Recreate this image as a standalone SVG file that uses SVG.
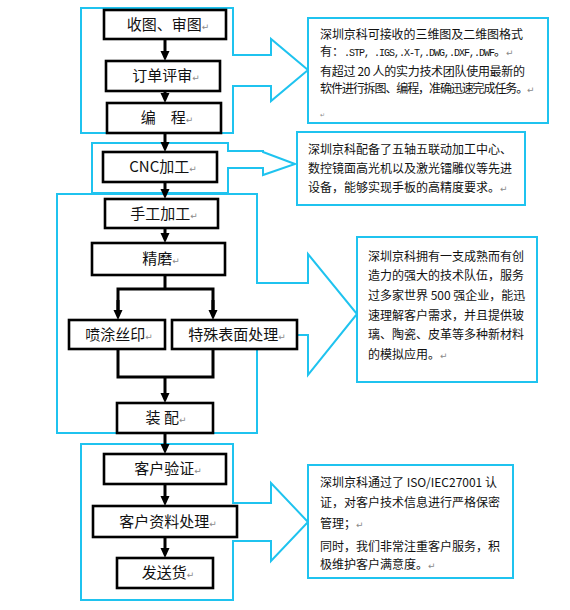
<svg xmlns="http://www.w3.org/2000/svg" width="570" height="610" viewBox="0 0 570 610">
<style>
.reg{fill:none;stroke:#1fc3ef;stroke-width:2}
.cb{fill:#fff;stroke:#1fc3ef;stroke-width:2}
.nb{fill:#fff;stroke:#000;stroke-width:2.6}
.lbl{font-family:"Noto Sans CJK SC","Noto Sans",sans-serif;font-size:15px;fill:#111;text-anchor:middle}
.ct{font-family:"Noto Sans CJK SC","Noto Sans",sans-serif;font-size:12px;fill:#111}
.pm{font-family:"DejaVu Sans",sans-serif;font-size:9px;fill:#8a8a8a;letter-spacing:0}
.mono{font-family:"Liberation Mono",monospace;font-size:10px;letter-spacing:-1px}
.cn{fill:none;stroke:#000;stroke-width:3}
</style>
<defs>
<marker id="ah" markerUnits="userSpaceOnUse" markerWidth="10" markerHeight="10" refX="2" refY="4.5" orient="auto">
<path d="M0,0 L10,4.5 L0,9 Z" fill="#000"/>
</marker>
</defs>
<rect width="570" height="610" fill="#fff"/>

<g id="regions">
<path class="reg" d="M81,8 H233 V55 H271 V39 L308,70 L271,101 V86 H233 V133 H81 Z"/>
<path class="reg" d="M92,143 H228 V151 H263 V152 L295,164 L263,175 V168 H228 V193 H92 Z"/>
<path class="reg" d="M57,194 H257 V283 H308 V254 L357,314 L308,375 V335 H257 V433 H57 Z"/>
<path class="reg" d="M81,444 H233 V503 H271 V483 L308,522 L271,561 V541 H233 V600 H81 Z"/>
</g>

<g id="connectors">
<line class="cn" x1="165" y1="39" x2="165" y2="53" marker-end="url(#ah)"/>
<line class="cn" x1="165" y1="91" x2="165" y2="95" marker-end="url(#ah)"/>
<line class="cn" x1="165" y1="133" x2="165" y2="144" marker-end="url(#ah)"/>
<line class="cn" x1="165" y1="182" x2="165" y2="191" marker-end="url(#ah)"/>
<line class="cn" x1="165" y1="228" x2="165" y2="235" marker-end="url(#ah)"/>
<polyline class="cn" points="165,275 165,289"/>
<polyline class="cn" points="118,312 118,289 213,289 213,312"/>
<line class="cn" x1="118" y1="300" x2="118" y2="312" marker-end="url(#ah)"/>
<line class="cn" x1="213" y1="300" x2="213" y2="312" marker-end="url(#ah)"/>
<polyline class="cn" points="118,349 118,377 213,377 213,349"/>
<line class="cn" x1="165" y1="377" x2="165" y2="395" marker-end="url(#ah)"/>
<line class="cn" x1="165" y1="433" x2="165" y2="446" marker-end="url(#ah)"/>
<line class="cn" x1="165" y1="484" x2="165" y2="498" marker-end="url(#ah)"/>
<line class="cn" x1="165" y1="537" x2="165" y2="550" marker-end="url(#ah)"/>
</g>

<g id="n1"><rect class="nb" x="104" y="10" width="122" height="29"/><text class="lbl" x="168" y="30">收图、审图<tspan class="pm">↵</tspan></text></g>
<g id="n2"><rect class="nb" x="106" y="61" width="114" height="30"/><text class="lbl" x="166" y="81">订单评审<tspan class="pm">↵</tspan></text></g>
<g id="n3"><rect class="nb" x="107" y="103" width="114" height="30"/><text class="lbl" x="167" y="123">编　程<tspan class="pm">↵</tspan></text></g>
<g id="n4"><rect class="nb" x="103" y="152" width="114" height="30"/><text class="lbl" x="163" y="172">CNC加工<tspan class="pm">↵</tspan></text></g>
<g id="n5"><rect class="nb" x="105" y="199" width="113" height="29"/><text class="lbl" x="164" y="219">手工加工<tspan class="pm">↵</tspan></text></g>
<g id="n6"><rect class="nb" x="92" y="243" width="133" height="32"/><text class="lbl" x="161" y="264">精磨<tspan class="pm">↵</tspan></text></g>
<g id="n7"><rect class="nb" x="69" y="320" width="96" height="29"/><text class="lbl" x="119" y="340">喷涂丝印<tspan class="pm">↵</tspan></text></g>
<g id="n8"><rect class="nb" x="172" y="320" width="125" height="29"/><text class="lbl" x="237" y="340">特殊表面处理<tspan class="pm">↵</tspan></text></g>
<g id="n9"><rect class="nb" x="117" y="403" width="96" height="30"/><text class="lbl" x="166" y="423">装 配<tspan class="pm">↵</tspan></text></g>
<g id="n10"><rect class="nb" x="104" y="454" width="122" height="30"/><text class="lbl" x="168" y="474">客户验证<tspan class="pm">↵</tspan></text></g>
<g id="n11"><rect class="nb" x="93" y="506" width="144" height="31"/><text class="lbl" x="168" y="527">客户资料处理<tspan class="pm">↵</tspan></text></g>
<g id="n12"><rect class="nb" x="117" y="558" width="96" height="30"/><text class="lbl" x="168" y="578">发送货<tspan class="pm">↵</tspan></text></g>

<g id="t1">
<rect class="cb" x="308" y="18" width="240" height="105"/>
<text class="ct" x="320" y="39" textLength="203">深圳京科可接收的三维图及二维图格式</text>
<text class="ct" x="320" y="56">有：<tspan class="mono">.STP,  .IGS,.X-T,.DWG,.DXF,.DWF</tspan>。<tspan class="pm">↵</tspan></text>
<text class="ct" x="320" y="76" textLength="205">有超过 20 人的实力技术团队使用最新的</text>
<text class="ct" x="320" y="93" style="letter-spacing:-1.1px">软件进行拆图、编程，准确迅速完成任务。<tspan class="pm">↵</tspan></text>
<text class="pm" x="320" y="117" style="font-size:6px">↵</text>
</g>

<g id="t2">
<rect class="cb" x="297" y="132" width="228" height="73"/>
<text class="ct" x="308" y="154">深圳京科配备了五轴五联动加工中心、</text>
<text class="ct" x="308" y="173">数控镜面高光机以及激光镭雕仪等先进</text>
<text class="ct" x="308" y="192">设备，能够实现手板的高精度要求。<tspan class="pm">↵</tspan></text>
</g>

<g id="t3">
<rect class="cb" x="357" y="237" width="180" height="145"/>
<text class="ct" x="368" y="261">深圳京科拥有一支成熟而有创</text>
<text class="ct" x="368" y="280">造力的强大的技术队伍，服务</text>
<text class="ct" x="368" y="300">过多家世界 500 强企业，能迅</text>
<text class="ct" x="368" y="320">速理解客户需求，并且提供玻</text>
<text class="ct" x="368" y="339">璃、陶瓷、皮革等多种新材料</text>
<text class="ct" x="368" y="359">的模拟应用。<tspan class="pm">↵</tspan></text>
</g>

<g id="t4">
<rect class="cb" x="308" y="465" width="205" height="113"/>
<text class="ct" x="320" y="487">深圳京科通过了 ISO/IEC27001 认</text>
<text class="ct" x="320" y="507">证，对客户技术信息进行严格保密</text>
<text class="ct" x="320" y="528">管理；<tspan class="pm">↵</tspan></text>
<text class="ct" x="320" y="551">同时，我们非常注重客户服务，积</text>
<text class="ct" x="320" y="569">极维护客户满意度。<tspan class="pm">↵</tspan></text>
</g>
</svg>
